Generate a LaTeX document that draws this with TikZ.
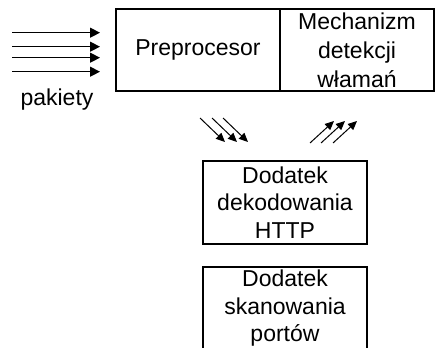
\documentclass[tikz,border=0pt]{standalone}
\usepackage{fontspec}
\setmainfont{Liberation Sans}
\usetikzlibrary{arrows.meta}
\begin{document}
\begin{tikzpicture}[x=1pt,y=-1pt,
  box/.style={draw,line width=1.6pt,rectangle,inner sep=0pt,align=center,
    font=\fontsize{23}{27.5}\selectfont},
  bigarrow/.style={line width=1.3pt,-{Triangle[length=10pt,width=10pt]}},
  smallarrow/.style={line width=1pt,-{Triangle[length=9pt,width=8pt]}}]
\clip (0,0) rectangle (435,347);
\fill[white] (0,0) rectangle (435,347);
% main box
\node[box,minimum width=164pt,minimum height=82pt] (prep) at (198,50) {Preprocesor};
\node[box,minimum width=154pt,minimum height=82pt,
  font=\fontsize{23}{29}\selectfont] (mech) at (357,50) {Mechanizm\\detekcji\\włamań};
% lower boxes
\node[box,minimum width=164pt,minimum height=83pt] (http) at (285,202.5) {Dodatek\\dekodowania\\HTTP};
\node[box,minimum width=164pt,minimum height=83pt] (scan) at (285,308.5) {Dodatek\\skanowania\\portów};
% input arrows
\foreach \i/\y in {1/32.7,2/46.7,3/57.7,4/71.7}{
  \coordinate (in\i) at (12,\y);
  \coordinate (out\i) at (100,\y);
  \draw[bigarrow] (in\i) -- (out\i);
}
\node[font=\fontsize{23}{27.5}\selectfont] (pak) at (57,100) {pakiety};
% small arrows down
\foreach \i/\dx in {1/0,2/12,3/23}{
  \coordinate (ds\i) at (200+\dx,118);
  \coordinate (de\i) at (225+\dx,142);
  \draw[smallarrow] (ds\i) -- (de\i);
}
% small arrows up
\foreach \i/\dx in {1/0,2/11,3/23}{
  \coordinate (us\i) at (310+\dx,143);
  \coordinate (ue\i) at (334+\dx,121);
  \draw[smallarrow] (us\i) -- (ue\i);
}
\end{tikzpicture}
\end{document}
